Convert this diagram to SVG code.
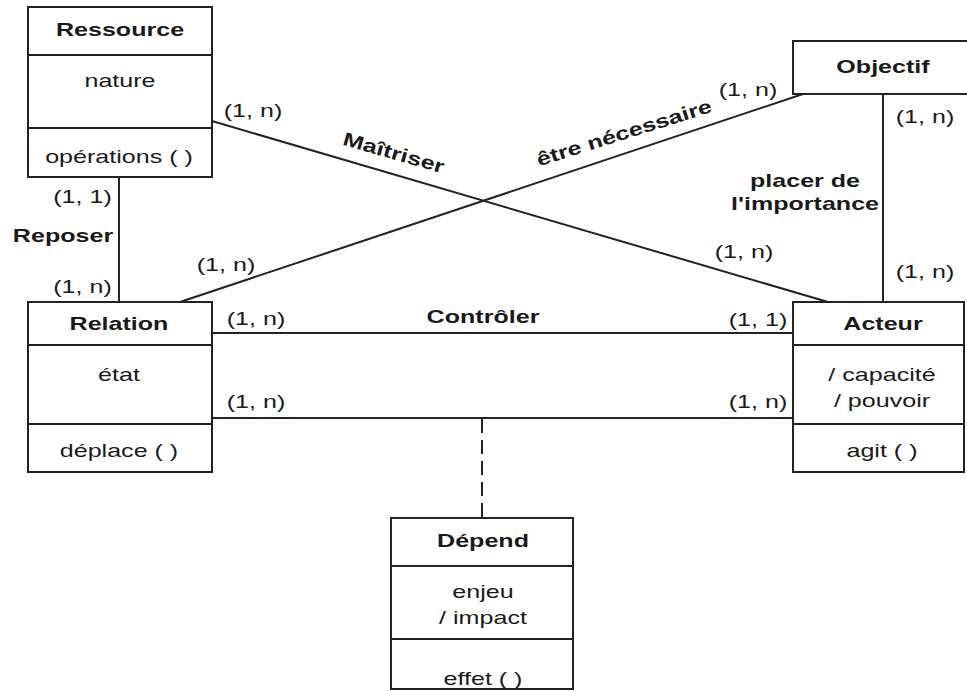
<svg xmlns="http://www.w3.org/2000/svg" width="967" height="691" viewBox="0 0 967 691">
<style>
.box{fill:#fff;stroke:#222;stroke-width:2}
.div{stroke:#222;stroke-width:2}
.ln{stroke:#222;stroke-width:2;fill:none}
.dash{stroke:#222;stroke-width:2;stroke-dasharray:14 7;fill:none}
text{font-family:"Liberation Sans",Arial,sans-serif;font-size:19px;fill:#1a1a1a;text-anchor:middle}
.b{font-weight:bold}
</style>
<rect width="967" height="691" fill="#fff"/>
<g id="connectors">
<line class="ln" x1="119" y1="177" x2="119" y2="302"/>
<line class="ln" x1="212" y1="121" x2="828" y2="302"/>
<line class="ln" x1="180" y1="302" x2="803" y2="94"/>
<line class="ln" x1="883" y1="94" x2="883" y2="302"/>
<line class="ln" x1="212" y1="333" x2="793" y2="333"/>
<line class="ln" x1="212" y1="418" x2="793" y2="418"/>
<line class="dash" x1="482" y1="419" x2="482" y2="518"/>
<text transform="translate(82.5 203) scale(1.32 1)">(1, 1)</text>
<text class="b" transform="translate(63 242) scale(1.32 1)">Reposer</text>
<text transform="translate(82.5 293) scale(1.32 1)">(1, n)</text>
<text transform="translate(253 117) scale(1.32 1)">(1, n)</text>
<text transform="translate(226 271) scale(1.32 1)">(1, n)</text>
<text class="b" transform="translate(392 159) rotate(16) scale(1.32 1)">Maîtriser</text>
<text class="b" transform="translate(626 139) rotate(-17.5) scale(1.32 1)">être nécessaire</text>
<text transform="translate(748 96) scale(1.32 1)">(1, n)</text>
<text transform="translate(925 123) scale(1.32 1)">(1, n)</text>
<text class="b" transform="translate(805 187) scale(1.32 1)">placer de</text>
<text class="b" transform="translate(805 210) scale(1.32 1)">l'importance</text>
<text transform="translate(744 258) scale(1.32 1)">(1, n)</text>
<text transform="translate(925 278) scale(1.32 1)">(1, n)</text>
<text transform="translate(256 325) scale(1.32 1)">(1, n)</text>
<text class="b" transform="translate(483 323) scale(1.32 1)">Contrôler</text>
<text transform="translate(758 326) scale(1.32 1)">(1, 1)</text>
<text transform="translate(256 408) scale(1.32 1)">(1, n)</text>
<text transform="translate(758 408) scale(1.32 1)">(1, n)</text>
</g>
<g id="ressource">
<rect class="box" x="28" y="7" width="184" height="170"/>
<line class="div" x1="28" y1="55" x2="212" y2="55"/>
<line class="div" x1="28" y1="128" x2="212" y2="128"/>
<text class="b" transform="translate(120 36) scale(1.32 1)">Ressource</text>
<text transform="translate(120 87) scale(1.32 1)">nature</text>
<text transform="translate(119 163) scale(1.32 1)">opérations ( )</text>
</g>
<g id="objectif">
<rect class="box" x="793" y="41" width="180" height="53"/>
<text class="b" transform="translate(883 73) scale(1.32 1)">Objectif</text>
</g>
<g id="relation">
<rect class="box" x="28" y="302" width="184" height="170"/>
<line class="div" x1="28" y1="345" x2="212" y2="345"/>
<line class="div" x1="28" y1="424" x2="212" y2="424"/>
<text class="b" transform="translate(119 330) scale(1.32 1)">Relation</text>
<text transform="translate(119 381) scale(1.32 1)">état</text>
<text transform="translate(119 457) scale(1.32 1)">déplace ( )</text>
</g>
<g id="acteur">
<rect class="box" x="793" y="302" width="171" height="170"/>
<line class="div" x1="793" y1="345" x2="964" y2="345"/>
<line class="div" x1="793" y1="424" x2="964" y2="424"/>
<text class="b" transform="translate(883 330) scale(1.32 1)">Acteur</text>
<text transform="translate(882 381) scale(1.32 1)">/ capacité</text>
<text transform="translate(882 407) scale(1.32 1)">/ pouvoir</text>
<text transform="translate(882 457) scale(1.32 1)">agit ( )</text>
</g>
<g id="depend">
<rect class="box" x="391" y="518" width="182" height="171"/>
<line class="div" x1="391" y1="566" x2="573" y2="566"/>
<line class="div" x1="391" y1="639" x2="573" y2="639"/>
<text class="b" transform="translate(483 547) scale(1.32 1)">Dépend</text>
<text transform="translate(483 598) scale(1.32 1)">enjeu</text>
<text transform="translate(483 624) scale(1.32 1)">/ impact</text>
<text transform="translate(483 685) scale(1.32 1)">effet ( )</text>
</g>
</svg>
